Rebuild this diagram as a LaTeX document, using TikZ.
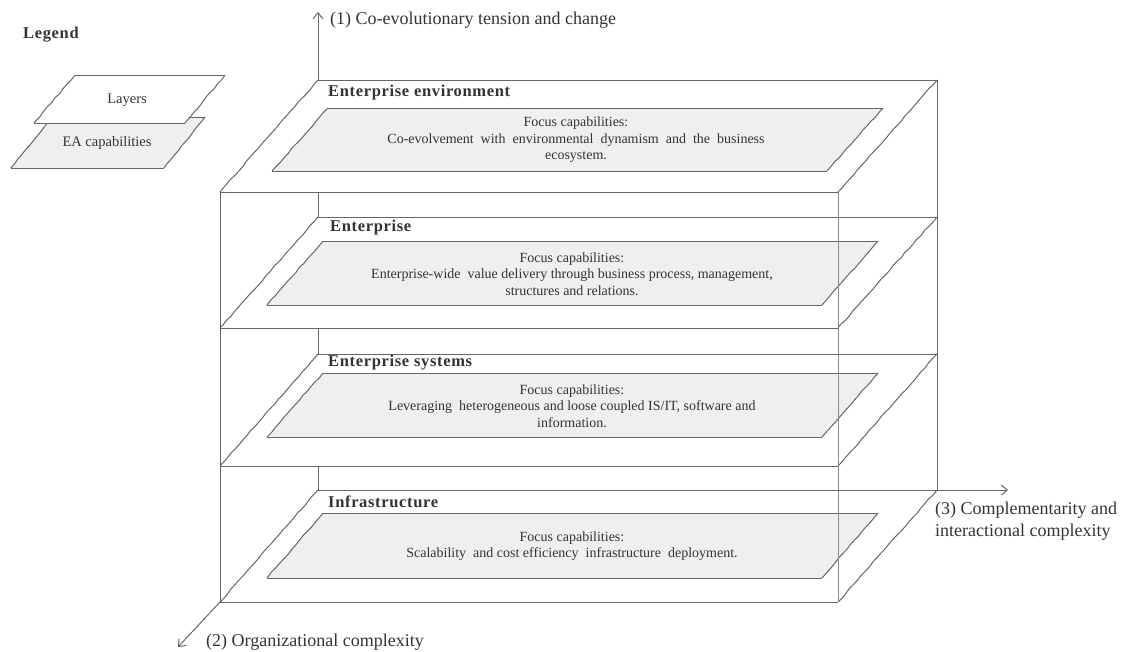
\documentclass[tikz,border=0pt]{standalone}
\usepackage{fontspec}
\setmainfont{Liberation Serif}
\newfontfamily\spacedbold[LetterSpace=4,BoldFont={Liberation Serif Bold}]{Liberation Serif}
\usetikzlibrary{arrows.meta,decorations.pathmorphing}
\definecolor{linegray}{HTML}{666666}
\definecolor{lightline}{HTML}{8A8A8A}
\definecolor{capgray}{HTML}{EFEFEF}
\definecolor{textgray}{HTML}{333333}
\pgfmathsetseed{7}

\begin{document}
\begin{tikzpicture}[x=1pt,y=-1pt,
  edge/.style={draw=linegray, line width=1pt},
  rough/.style={edge, decorate, decoration={random steps, segment length=6pt, amplitude=0.5pt}},
  title/.style={font=\spacedbold\bfseries\fontsize{16.5}{19}\selectfont, text=textgray, anchor=west, inner sep=0pt},
  captext/.style={font=\fontsize{14}{16.5}\selectfont, text=textgray, align=center, inner sep=0pt},
  legendtext/.style={font=\fontsize{14.5}{16}\selectfont, text=textgray, inner sep=0pt},
  axislabel/.style={font=\fontsize{18}{22}\selectfont, text=textgray, inner sep=0pt, anchor=west, align=left},
  axisarrow/.style={edge, -{Straight Barb[length=6pt,width=10pt]}}
]
\useasboundingbox (0,0) rectangle (1123,651);

% ---------- legend ----------
\node[title] (legend) at (23,35) {Legend};
% EA capabilities sheet (behind)
\fill[capgray] (52,117) -- (205,117) -- (164,168) -- (11,168) -- cycle;
\draw[edge] (52,117) -- (205,117);
\draw[edge] (164,168) -- (11,168);
\draw[rough] (205,117) -- (164,168);
\draw[rough] (52,117) -- (11,168);
% layer sheet (front)
\fill[white] (75,75) -- (225,75) -- (185,123) -- (34,123) -- cycle;
\draw[edge] (75,75) -- (225,75);
\draw[edge] (185,123) -- (34,123);
\draw[rough] (225,75) -- (185,123);
\draw[rough] (75,75) -- (34,123);
\node[legendtext] (lglayers) at (127,100) {Layers};
\node[legendtext] (lgcap) at (107,143) {EA capabilities};

% ---------- box corners ----------
\coordinate (topback)  at (318,80);
\coordinate (topfront) at (220,192);
\coordinate (botback)  at (318,490);
\coordinate (botfront) at (220,602);
\coordinate (axisup)    at (318,12);
\coordinate (axisright) at (1008,490);
\coordinate (axisdown)  at (178,647);

% hidden back-left edge (covered by the layer sheets)
\draw[edge] (topback) -- (botback);

% ---------- layer sheets and capability sheets ----------
\foreach \b/\f/\ct/\cb/\tl/\bl in {80/192/108/171/328/272, 217/328/241/305/323/267, 354/466/373/437/323/267, 490/602/513/578/323/267}{
  \fill[white] (318,\b) -- (937,\b) -- (838,\f) -- (220,\f) -- cycle;
  \draw[edge] (318,\b) -- (937,\b);
  \draw[edge] (838,\f) -- (220,\f);
  \draw[rough] (318,\b) -- (220,\f);
  \draw[rough] (937,\b) -- (838,\f);
  \pgfmathsetmacro{\tr}{\tl+555}
  \pgfmathsetmacro{\br}{\bl+555}
  \fill[capgray] (\tl,\ct) -- (\tr,\ct) -- (\br,\cb) -- (\bl,\cb) -- cycle;
  \draw[edge] (\tl,\ct) -- (\tr,\ct);
  \draw[edge] (\br,\cb) -- (\bl,\cb);
  \draw[rough] (\tl,\ct) -- (\bl,\cb);
  \draw[rough] (\tr,\ct) -- (\br,\cb);
}

% front and right edges of the block
\draw[edge] (topfront) -- (botfront);
\draw[draw=lightline, line width=0.8pt] (838,192) -- (838,602);
\draw[edge] (937,80) -- (937,490);

% ---------- layer titles ----------
\node[title] (t1) at (328,93)  {Enterprise environment};
\node[title] (t2) at (330,228) {Enterprise};
\node[title] (t3) at (328,363) {Enterprise systems};
\node[title] (t4) at (328,502) {Infrastructure};

% ---------- capability texts ----------
\node[captext] (c1) at (576,140) {Focus capabilities:\\Co-evolvement\ \ with\ \ environmental\ \ dynamism\ \ and\ \ the\ \ business\\ecosystem.};
\node[captext] (c2) at (572,274) {Focus capabilities:\\Enterprise-wide\ \ value delivery through business process, management,\\structures and relations.};
\node[captext] (c3) at (572,406) {Focus capabilities:\\Leveraging\ \ heterogeneous and loose coupled IS/IT, software and\\information.};
\node[captext] (c4) at (572,546) {Focus capabilities:\\Scalability\ \ and cost efficiency\ \ infrastructure\ \ deployment.};

% ---------- axes ----------
\draw[axisarrow] (topback) -- (axisup);
\draw[axisarrow] (botback) -- (axisright);
\draw[axisarrow] (botfront) -- (axisdown);
\node[axislabel] (a1) at (330,20) {(1) Co-evolutionary tension and change};
\node[axislabel] (a3) at (935,521) {(3) Complementarity and\\interactional complexity};
\node[axislabel] (a2) at (206,642) {(2) Organizational complexity};
\end{tikzpicture}
\end{document}
